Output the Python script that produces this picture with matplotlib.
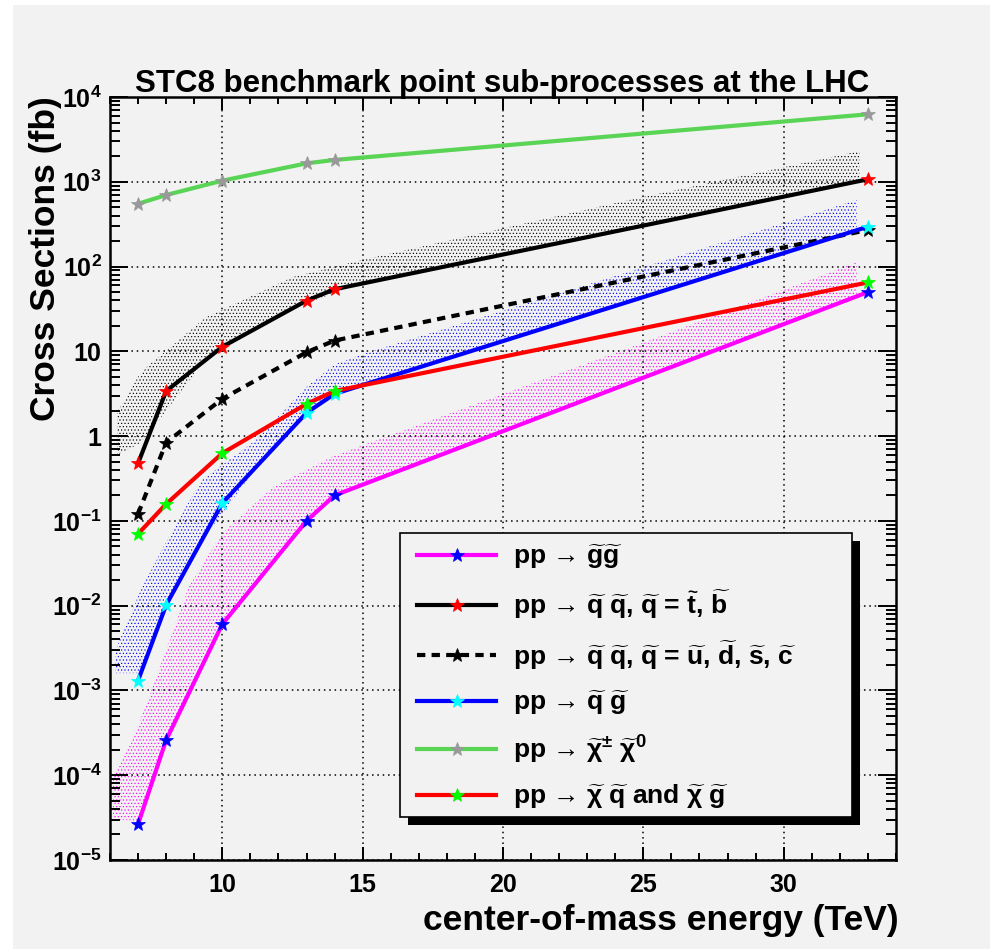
import numpy as np
import matplotlib.pyplot as plt
from matplotlib.patches import Rectangle
from matplotlib.ticker import MultipleLocator, LogLocator, NullFormatter

plt.rcParams['font.family'] = ['Liberation Sans', 'DejaVu Sans']
plt.rcParams['font.weight'] = 'bold'
plt.rcParams['mathtext.fontset'] = 'custom'
plt.rcParams['mathtext.rm'] = 'Liberation Sans:bold'
plt.rcParams['mathtext.bf'] = 'Liberation Sans:bold'
plt.rcParams['mathtext.it'] = 'Liberation Sans:bold'
plt.rcParams['mathtext.default'] = 'bf'
plt.rcParams['hatch.linewidth'] = 0.45

BG = '#f2f2f2'

# sqrt(s) in TeV and cross sections in fb
energy = [7, 8, 10, 13, 14, 33]
sig_gg = [2.65e-5, 2.6e-4, 6.05e-3, 0.10, 0.20, 50]
sig_qq_tb = [0.478, 3.4, 11.3, 39.6, 54, 1070]
sig_qq_udsc = [0.121, 0.84, 2.75, 9.75, 13.4, 270]
sig_qg = [1.31e-3, 0.0102, 0.162, 1.88, 3.15, 295]
sig_chichi = [550, 698, 1030, 1650, 1810, 6250]
sig_chiq_chig = [0.0703, 0.158, 0.628, 2.4, 3.4, 65]

# scale-variation bands
band_tb_x = [6.25, 7.0, 7.3, 9.4, 12.5, 15.0, 24.5, 32.7]
band_tb_lo = [0.6, 0.8, 1.0, 8.0, 32, 65, 290, 1000]
band_tb_hi = [1.9, 5.0, 6.5, 25, 75, 120, 610, 2300]

band_qg_x = [6.2, 7.1, 8.1, 9.25, 11.2, 13.0, 14.0, 15.1, 24.5, 32.6]
band_qg_lo = [1.6e-3, 1.6e-3, 0.0115, 0.057, 0.416, 1.8, 3.1, 4.2, 38.8, 267]
band_qg_hi = [3.0e-3, 0.0155, 0.065, 0.30, 0.9, 3.8, 7.0, 9.5, 87, 610]

band_gg_x = [6.1, 7.05, 8.25, 8.8, 10.0, 11.8, 13.9, 15.1, 24.5, 32.6]
band_gg_lo = [3e-5, 2.9e-5, 3.9e-4, 9.2e-4, 6.1e-3, 0.0327, 0.184, 0.27, 4.16, 43.6]
band_gg_hi = [9e-5, 4.2e-4, 5e-3, 0.0166, 0.072, 0.25, 0.57, 0.8, 11, 112]

labels = [
    r'pp → $\widetilde{g}\widetilde{g}$',
    r'pp → $\widetilde{q}$ $\widetilde{q}$, $\widetilde{q}$ = $\widetilde{t}$, $\widetilde{b}$',
    r'pp → $\widetilde{q}$ $\widetilde{q}$, $\widetilde{q}$ = $\widetilde{u}$, '
    r'$\widetilde{d}$, $\widetilde{s}$, $\widetilde{c}$',
    r'pp → $\widetilde{q}$ $\widetilde{g}$',
    r'pp → $\widetilde{\chi}^{\pm}$ $\widetilde{\chi}^{0}$',
    r'pp → $\widetilde{\chi}$ $\widetilde{q}$ and $\widetilde{\chi}$ $\widetilde{g}$',
]

ytick_vals = [1e-5, 1e-4, 1e-3, 1e-2, 1e-1, 1, 10, 1e2, 1e3, 1e4]
ytick_txt = [r'$10^{-5}$', r'$10^{-4}$', r'$10^{-3}$', r'$10^{-2}$', r'$10^{-1}$',
             '1', '10', r'$10^{2}$', r'$10^{3}$', r'$10^{4}$']

W, H = 993, 949
AX_L, AX_R, AX_T, AX_B = 110, 896, 97, 860
fig = plt.figure(figsize=(W / 100, H / 100), dpi=100, facecolor='white')
fig.patches.append(Rectangle((13 / W, 0), (990 - 13) / W, (949 - 5) / H,
                             transform=fig.transFigure, facecolor=BG,
                             edgecolor='none', zorder=-10))

ax = fig.add_axes([AX_L / W, (H - AX_B) / H, (AX_R - AX_L) / W, (AX_B - AX_T) / H])
ax.set_facecolor(BG)
ax.set_yscale('log')
ax.set_xlim(6, 34)
ax.set_ylim(1e-5, 1e4)


def px_to_axes(x, y):
    return (x - AX_L) / (AX_R - AX_L), (AX_B - y) / (AX_B - AX_T)


# bands
for bx, lo, hi, col in [(band_tb_x, band_tb_lo, band_tb_hi, 'black'),
                        (band_qg_x, band_qg_lo, band_qg_hi, '#0000ff'),
                        (band_gg_x, band_gg_lo, band_gg_hi, '#ff00ff')]:
    ax.fill_between(bx, lo, hi, facecolor='none', edgecolor=col,
                    hatch='.....', linewidth=0, zorder=1)

lw = 3
ms = 10
curves = [
    (sig_gg, '#ff00ff', '-', '#0000ff'),
    (sig_qq_tb, 'black', '-', '#ff0000'),
    (sig_qq_udsc, 'black', (0, (2, 1.5)), 'black'),
    (sig_qg, '#0000ff', '-', '#00ffff'),
    (sig_chichi, '#59d454', '-', '#999999'),
    (sig_chiq_chig, '#ff0000', '-', '#00ff00'),
]
handles = []
for ys, col, ls, mcol in curves:
    h, = ax.plot(energy, ys, color=col, lw=lw, ls=ls, marker='*', ms=ms,
                 mfc=mcol, mec=mcol, mew=0.5, zorder=3)
    handles.append(h)

ax.xaxis.set_major_locator(MultipleLocator(5))
ax.xaxis.set_minor_locator(MultipleLocator(1))
ax.set_yticks(ytick_vals, ytick_txt)
ax.yaxis.set_minor_locator(LogLocator(base=10, subs=np.arange(2, 10), numticks=30))
ax.yaxis.set_minor_formatter(NullFormatter())

ax.tick_params(which='both', direction='in', top=True, right=True, width=1.4,
               labelsize=18)
ax.tick_params(axis='y', which='major', length=13, pad=6)
ax.tick_params(axis='y', which='minor', length=7)
ax.tick_params(axis='x', which='major', length=9.5, pad=9)
ax.tick_params(axis='x', which='minor', length=5)
for s in ax.spines.values():
    s.set_linewidth(1.8)

ax.grid(True, which='major', color='black', linestyle=(0, (1, 2.5)), linewidth=1.1)
ax.set_axisbelow(False)

# legend box with a hard black drop shadow
bx0, by0 = px_to_axes(400, 817)
bx1, by1 = px_to_axes(852, 533)
sx, sy = 8 / (AX_R - AX_L), 8 / (AX_B - AX_T)
ax.add_patch(Rectangle((bx0 + sx, by0 - sy), bx1 - bx0, by1 - by0,
                       transform=ax.transAxes, facecolor='black',
                       edgecolor='none', zorder=5, clip_on=False))
ax.add_patch(Rectangle((bx0, by0), bx1 - bx0, by1 - by0,
                       transform=ax.transAxes, facecolor=BG,
                       edgecolor='black', linewidth=1.2, zorder=5.1, clip_on=False))

lx, ly = px_to_axes(417, 543)
leg = ax.legend(handles, labels, loc='upper left', bbox_to_anchor=(lx, ly),
                fontsize=19, frameon=False, handlelength=3.0, handletextpad=0.64,
                borderpad=0, labelspacing=0.64, numpoints=1, borderaxespad=0)
leg.set_zorder(6)

fig.text(502 / W, 1 - 92 / H, 'STC8 benchmark point sub-processes at the LHC',
         ha='center', va='baseline', fontsize=22.5, weight='bold')
fig.text(46 / W, 1 - 96 / H, 'Cross Sections (fb)', rotation=90,
         ha='center', va='top', fontsize=25.5, weight='bold')
fig.text(899 / W, 1 - 930 / H, 'center-of-mass energy (TeV)',
         ha='right', va='baseline', fontsize=25.5, weight='bold')

fig.savefig('out.png', dpi=100, facecolor=fig.get_facecolor())
